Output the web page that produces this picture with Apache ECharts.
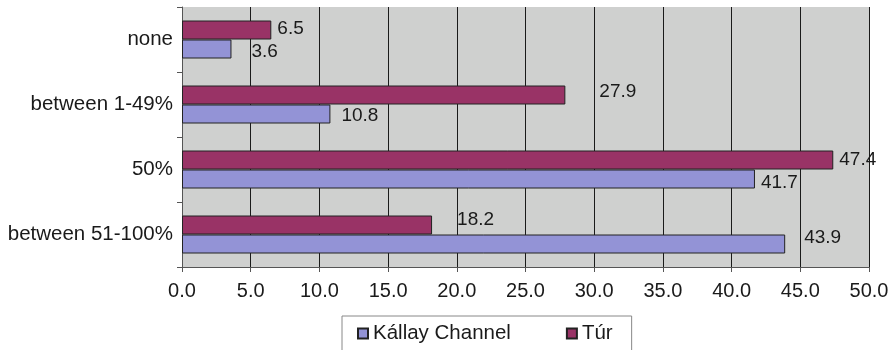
<!DOCTYPE html>
<html>
<head>
<meta charset="utf-8">
<script src="https://cdn.jsdelivr.net/npm/echarts@6/dist/echarts.min.js"></script>
<style>
  html, body { margin: 0; padding: 0; background: #fff; }
  #chart { width: 893px; height: 350px; }
</style>
</head>
<body>
<div id="chart"></div>
<script>
// Share of land categories, listed bottom-to-top for the category axis
const categories = ['between 51-100%', '50%', 'between 1-49%', 'none'];
const kallayValues = [43.9, 41.7, 10.8, 3.6];
const turValues = [18.2, 47.4, 27.9, 6.5];
const xTicks = [0, 5, 10, 15, 20, 25, 30, 35, 40, 45, 50];

// Label nudges [dx, dy] per bar, same order as the categories
const kallayLabelShift = [[14, -6], [1, 4], [6, 2], [15, 3]];
const turLabelShift = [[20, -5], [1, 0], [29, -3], [1, -1]];

const FONT = 'Liberation Sans, Arial, sans-serif';

function buildData(values, shifts) {
  return values.map((v, i) => ({
    value: v,
    label: { offset: shifts[i] }
  }));
}

const labelStyle = {
  show: true,
  position: 'right',
  distance: 5,
  color: '#1a1a1a',
  fontFamily: FONT,
  fontSize: 19,
  formatter: p => p.value.toFixed(1)
};

const chart = echarts.init(document.getElementById('chart'), null, { renderer: 'canvas' });
chart.setOption({
  animation: false,
  backgroundColor: '#ffffff',
  grid: {
    left: 182, right: 24, top: 7, height: 260,
    show: true,
    backgroundColor: '#cfd0cf',
    borderWidth: 0
  },
  legend: {
    data: ['Kállay Channel', 'Túr'],
    left: 342,
    top: 316,
    orient: 'horizontal',
    backgroundColor: '#ffffff',
    borderColor: '#888888',
    borderWidth: 1,
    borderRadius: 0,
    padding: [7, 19, 14, 15],
    itemWidth: 10,
    itemHeight: 10,
    itemGap: 55,
    icon: 'rect',
    textStyle: { fontFamily: FONT, fontSize: 20.5, color: '#1a1a1a' }
  },
  xAxis: {
    type: 'value',
    min: xTicks[0],
    max: xTicks[xTicks.length - 1],
    interval: xTicks[1] - xTicks[0],
    axisLine: { show: true, lineStyle: { color: '#555', width: 1 } },
    axisTick: { show: true, length: 5, lineStyle: { color: '#555' } },
    axisLabel: {
      margin: 14,
      fontFamily: FONT,
      fontSize: 20,
      color: '#1a1a1a',
      formatter: v => v.toFixed(1)
    },
    splitLine: { show: true, lineStyle: { color: '#1a1a1a', width: 1 } }
  },
  yAxis: {
    type: 'category',
    data: categories,
    axisLine: { show: true, onZero: false, lineStyle: { color: '#555', width: 1 } },
    axisTick: { show: true, length: 5, lineStyle: { color: '#555' } },
    axisLabel: {
      margin: 9,
      fontFamily: FONT,
      fontSize: 20.5,
      color: '#1a1a1a'
    },
    splitLine: { show: false }
  },
  series: [
    {
      name: 'Túr',
      type: 'bar',
      data: buildData(turValues, turLabelShift),
      barWidth: 19,
      barGap: '0%',
      itemStyle: { color: '#993366', borderColor: '#222', borderWidth: 1 },
      label: labelStyle
    },
    {
      name: 'Kállay Channel',
      type: 'bar',
      data: buildData(kallayValues, kallayLabelShift),
      barWidth: 19,
      barGap: '0%',
      itemStyle: { color: '#9393d6', borderColor: '#222', borderWidth: 1 },
      label: labelStyle
    }
  ]
});
</script>
</body>
</html>
